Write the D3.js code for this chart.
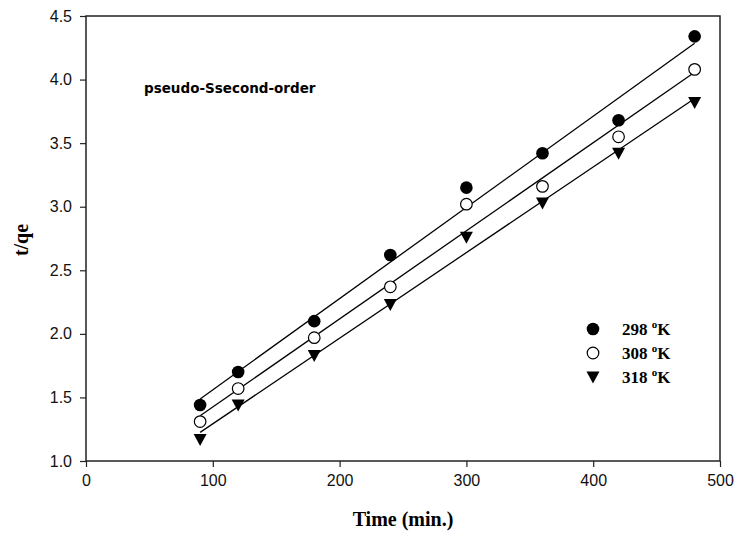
<!DOCTYPE html>
<html>
<head>
<meta charset="utf-8">
<script src="https://cdn.jsdelivr.net/npm/d3@7"></script>
<style>
  body { margin: 0; background: #fff; }
  svg { display: block; }
</style>
</head>
<body>
<div id="chart"></div>
<script>
// data
var times = [90, 120, 180, 240, 300, 360, 420, 480];
var t298 = [1.44, 1.70, 2.10, 2.62, 3.15, 3.42, 3.68, 4.34];
var t308 = [1.31, 1.57, 1.97, 2.37, 3.02, 3.16, 3.55, 4.08];
var t318 = [1.17, 1.44, 1.83, 2.23, 2.76, 3.03, 3.42, 3.82];
var seriesNames = ["298", "308", "318"];
var xTicks = [0, 100, 200, 300, 400, 500];
var yTicks = [1.0, 1.5, 2.0, 2.5, 3.0, 3.5, 4.0, 4.5];

var svgWidth = 737, svgHeight = 535;
var margin = { top: 16, right: 17, bottom: 74, left: 86 };
var width = svgWidth - margin.left - margin.right;
var height = svgHeight - margin.top - margin.bottom;

var svg = d3.select("#chart")
  .append("svg")
  .attr("width", svgWidth)
  .attr("height", svgHeight);

var chartGroup = svg.append("g")
  .attr("transform", `translate(${margin.left}, ${margin.top})`);

var xScale = d3.scaleLinear().domain([0, 500]).range([0, width]);
var yScale = d3.scaleLinear().domain([1.0, 4.5]).range([height, 0]);

var xAxis = d3.axisBottom(xScale).tickValues(xTicks).tickSize(6).tickPadding(8).tickFormat(d3.format("d"));
var yAxis = d3.axisLeft(yScale).tickValues(yTicks).tickSize(6).tickPadding(8).tickFormat(d3.format(".1f"));

var xg = chartGroup.append("g")
  .attr("transform", `translate(0, ${height})`)
  .call(xAxis);
var yg = chartGroup.append("g").call(yAxis);

[xg, yg].forEach(function(g) {
  g.select(".domain").remove();
  g.selectAll("line").attr("stroke", "#222").attr("stroke-width", 1.2);
  g.selectAll("text")
    .attr("font-family", "Liberation Sans, Arial, sans-serif")
    .attr("font-size", "16px")
    .attr("fill", "#111");
});

// frame
chartGroup.append("rect")
  .attr("x", 0).attr("y", 0)
  .attr("width", width).attr("height", height)
  .attr("fill", "none")
  .attr("stroke", "#222")
  .attr("stroke-width", 1.5);

var series = [t298, t308, t318].map(function(vals, i) {
  return { name: seriesNames[i], points: times.map(function(t, j) { return { x: t, y: vals[j] }; }) };
});

// least squares line for each series
function fit(points) {
  var mx = d3.mean(points, d => d.x), my = d3.mean(points, d => d.y);
  var sxy = d3.sum(points, d => (d.x - mx) * (d.y - my));
  var sxx = d3.sum(points, d => (d.x - mx) * (d.x - mx));
  var b = sxy / sxx, a = my - b * mx;
  var x0 = d3.min(points, d => d.x), x1 = d3.max(points, d => d.x);
  return [{ x: x0, y: a + b * x0 }, { x: x1, y: a + b * x1 }];
}

var line = d3.line().x(d => xScale(d.x)).y(d => yScale(d.y));

series.forEach(function(s) {
  chartGroup.append("path")
    .datum(fit(s.points))
    .attr("d", line)
    .attr("fill", "none")
    .attr("stroke", "#000")
    .attr("stroke-width", 1.3);
});

var triangle = "M-6.5,-5.5L6.5,-5.5L0,6.5Z";

function drawMarker(g, idx) {
  if (idx === 0) {
    g.append("circle").attr("r", 6.3).attr("fill", "#000");
  } else if (idx === 1) {
    g.append("circle").attr("r", 5.8).attr("fill", "#fff").attr("stroke", "#000").attr("stroke-width", 1.2);
  } else {
    g.append("path").attr("d", triangle).attr("fill", "#000");
  }
}

series.forEach(function(s, i) {
  chartGroup.append("g").selectAll("g")
    .data(s.points)
    .enter()
    .append("g")
    .attr("transform", d => `translate(${xScale(d.x)}, ${yScale(d.y)})`)
    .each(function() { drawMarker(d3.select(this), i); });
});

// annotation
chartGroup.append("text")
  .attr("x", 58)
  .attr("y", 77)
  .attr("font-family", "DejaVu Sans, Verdana, sans-serif")
  .attr("font-weight", "bold")
  .attr("font-size", "13.5px")
  .attr("fill", "#000")
  .text("pseudo-Ssecond-order");

// legend
var legend = svg.append("g")
  .attr("transform", "translate(593, 329)");

seriesNames.forEach(function(name, i) {
  var row = legend.append("g")
    .attr("transform", `translate(0, ${i * 24})`);
  drawMarker(row, i);
  var txt = row.append("text")
    .attr("x", 29)
    .attr("y", 6)
    .attr("font-family", "Liberation Serif, Times New Roman, serif")
    .attr("font-weight", "bold")
    .attr("font-size", "17px")
    .attr("fill", "#000");
  txt.append("tspan").text(name + " ");
  txt.append("tspan").attr("dy", -7).attr("font-size", "11px").text("o");
  txt.append("tspan").attr("dy", 7).text("K");
});

// axis titles
svg.append("text")
  .attr("x", margin.left + width / 2)
  .attr("y", 526)
  .attr("text-anchor", "middle")
  .attr("font-family", "Liberation Serif, Times New Roman, serif")
  .attr("font-weight", "bold")
  .attr("font-size", "20px")
  .attr("fill", "#000")
  .text("Time (min.)");

svg.append("text")
  .attr("transform", "rotate(-90)")
  .attr("x", -240)
  .attr("y", 28)
  .attr("text-anchor", "middle")
  .attr("font-family", "Liberation Serif, Times New Roman, serif")
  .attr("font-weight", "bold")
  .attr("font-size", "20px")
  .attr("fill", "#000")
  .text("t/qe");
</script>
</body>
</html>
